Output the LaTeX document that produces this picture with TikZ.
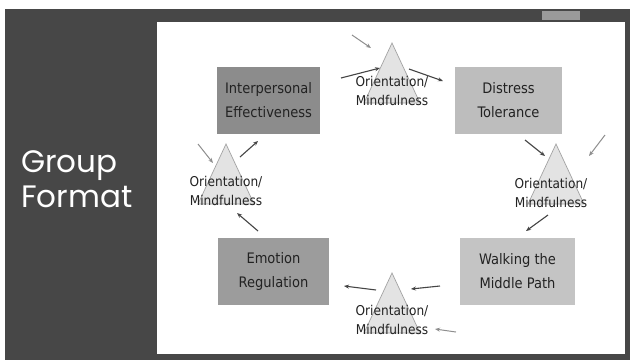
\documentclass[tikz,border=0pt]{standalone}
\usepackage{fontspec}
\setmainfont{DejaVu Sans}
\newfontfamily\diagfont{DejaVu Sans Condensed}
\newfontfamily\titlefont{Poppins}
\usetikzlibrary{arrows.meta}
\definecolor{slidebg}{HTML}{474747}
\definecolor{txt}{HTML}{222222}
\definecolor{trifill}{HTML}{E3E3E3}
\definecolor{triline}{HTML}{A3A3A3}
\definecolor{arrdark}{HTML}{454545}
\definecolor{arrlight}{HTML}{8E8E8E}
\begin{document}
\begin{tikzpicture}[x=1pt,y=-1pt,
  skillbox/.style={minimum width=#1, minimum height=67pt, inner sep=0pt, align=center,
     font=\diagfont\fontsize{14.5}{24}\selectfont, text=txt},
  omtext/.style={align=center, inner sep=0pt, font=\diagfont\fontsize{13.5}{19.5}\selectfont, text=txt},
  tri/.style={fill=trifill, draw=triline, line width=0.7pt},
  darr/.style={draw=arrdark, line width=1.1pt, -{Stealth[length=5pt,width=4pt]}},
  larr/.style={draw=arrlight, line width=1pt, -{Stealth[length=5pt,width=4pt]}}]
\useasboundingbox (0,0) rectangle (630,360);
% background
\fill[white] (0,0) rectangle (630,360);
\fill[slidebg] (5,9) rectangle (630,360);
\fill[white!45!slidebg] (542,11) rectangle (580,20);
\fill[white] (157,22) rectangle (625,354);
% title
\node[anchor=base west, text=white, font=\titlefont\fontsize{31}{35}\selectfont, align=left, inner sep=0pt]
  (title) at (21,207) {Group\\Format};
% triangles
\fill[tri] (392,43) -- (420,103) -- (364,103) -- cycle;
\fill[tri] (226,144) -- (254,204) -- (198,204) -- cycle;
\fill[tri] (556,144) -- (584,204) -- (528,204) -- cycle;
\fill[tri] (392,273) -- (420,333) -- (364,333) -- cycle;
% boxes
\node[skillbox=103pt, fill=black!45] (ie) at (268.5,100.5) {Interpersonal\\Effectiveness};
\node[skillbox=107pt, fill=black!26] (dt) at (508.5,100.5) {Distress\\Tolerance};
\node[skillbox=111pt, fill=black!39] (er) at (273.5,271) {Emotion\\Regulation};
\node[skillbox=115pt, fill=black!23] (wm) at (517.5,271) {Walking the\\Middle Path};
% orientation texts
\node[omtext] (omt) at (392,91) {Orientation/\\Mindfulness};
\node[omtext] (omr) at (551,193) {Orientation/\\Mindfulness};
\node[omtext] (oml) at (226,191) {Orientation/\\Mindfulness};
\node[omtext] (omb) at (392,320) {Orientation/\\Mindfulness};
% arrow end points
\coordinate (t1) at (352,35);  \coordinate (t2) at (371,48);
\coordinate (t3) at (341,78);  \coordinate (t4) at (380,68);
\coordinate (t5) at (409,69);  \coordinate (t6) at (443,81);
\coordinate (r1) at (525,140); \coordinate (r2) at (545,156);
\coordinate (r3) at (605,135); \coordinate (r4) at (589,156);
\coordinate (r5) at (548,215); \coordinate (r6) at (526,231);
\coordinate (b1) at (440,286); \coordinate (b2) at (411,289);
\coordinate (b3) at (376,290); \coordinate (b4) at (344,286);
\coordinate (b5) at (456,332); \coordinate (b6) at (435,329);
\coordinate (l1) at (258,231); \coordinate (l2) at (237,213);
\coordinate (l3) at (198,144); \coordinate (l4) at (213,163);
\coordinate (l5) at (240,157); \coordinate (l6) at (258,141);
% arrows
\draw[larr] (t1) -- (t2);
\draw[darr] (t3) -- (t4);
\draw[darr] (t5) -- (t6);
\draw[darr] (r1) -- (r2);
\draw[larr] (r3) -- (r4);
\draw[darr] (r5) -- (r6);
\draw[darr] (b1) -- (b2);
\draw[darr] (b3) -- (b4);
\draw[larr] (b5) -- (b6);
\draw[darr] (l1) -- (l2);
\draw[larr] (l3) -- (l4);
\draw[darr] (l5) -- (l6);
\end{tikzpicture}
\end{document}
